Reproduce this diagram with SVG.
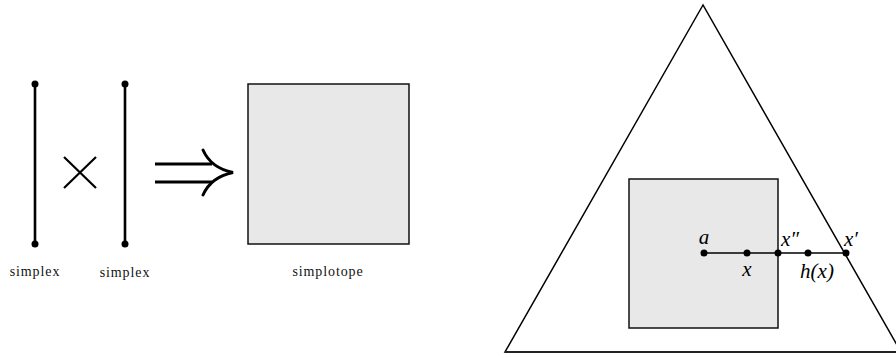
<svg xmlns="http://www.w3.org/2000/svg" width="896" height="358" viewBox="0 0 896 358">
<style>
.seg{stroke:#000;stroke-width:2.6;fill:none;stroke-linecap:round}
.thin{stroke:#000;stroke-width:1.4;fill:none}
.sq{fill:#e8e8e8;stroke:#111;stroke-width:1.5}
.lbl{font-family:"Liberation Serif",serif;font-size:14px;letter-spacing:0.9px;text-anchor:middle;fill:#111}
.math{font-family:"Liberation Serif",serif;font-style:italic;font-size:21px;fill:#000}
</style>
<rect width="896" height="358" fill="#fff"/>
<g id="simplex1">
<line class="seg" x1="35" y1="84" x2="35" y2="244"/>
<circle cx="35" cy="84" r="3.5"/><circle cx="35" cy="244" r="3.5"/>
<text class="lbl" x="35" y="276">simplex</text>
</g>
<g id="times">
<path d="M64,157 L96,188 M96,157 L64,188" stroke="#000" stroke-width="2.2" fill="none"/>
</g>
<g id="simplex2">
<line class="seg" x1="125" y1="84" x2="125" y2="244"/>
<circle cx="125" cy="84" r="3.5"/><circle cx="125" cy="244" r="3.5"/>
<text class="lbl" x="125" y="277">simplex</text>
</g>
<g id="implies">
<path d="M155,164 L212,164 M155,182 L212,182" stroke="#000" stroke-width="3" fill="none"/>
<path d="M203,150 Q211,168 233,172.5 Q211,177 203,195" stroke="#000" stroke-width="3" fill="none" stroke-linecap="round"/>
</g>
<g id="simplotope">
<rect class="sq" x="248" y="84" width="161" height="160"/>
<text class="lbl" x="328" y="276">simplotope</text>
</g>
<g id="triangle">
<polygon points="703,5 505,352 901,352" fill="none" stroke="#000" stroke-width="1.5"/>
<line x1="505" y1="352" x2="896" y2="352" stroke="#222" stroke-width="2.2"/>
</g>
<g id="square">
<rect class="sq" x="629" y="179" width="149" height="149"/>
</g>
<g id="connectors">
<line class="thin" x1="704" y1="253" x2="846" y2="253"/>
</g>
<g id="points">
<circle cx="704" cy="253" r="3.5"/>
<circle cx="747" cy="253" r="3.5"/>
<circle cx="778" cy="253" r="3.5"/>
<circle cx="808" cy="253" r="3.5"/>
<circle cx="846" cy="253" r="3.5"/>
<text class="math" x="704" y="244" text-anchor="middle">a</text>
<text class="math" x="747" y="276" text-anchor="middle">x</text>
<text class="math" x="781" y="246">x″</text>
<text class="math" x="817" y="278" text-anchor="middle">h(x)</text>
<text class="math" x="844" y="246">x′</text>
</g>
</svg>
